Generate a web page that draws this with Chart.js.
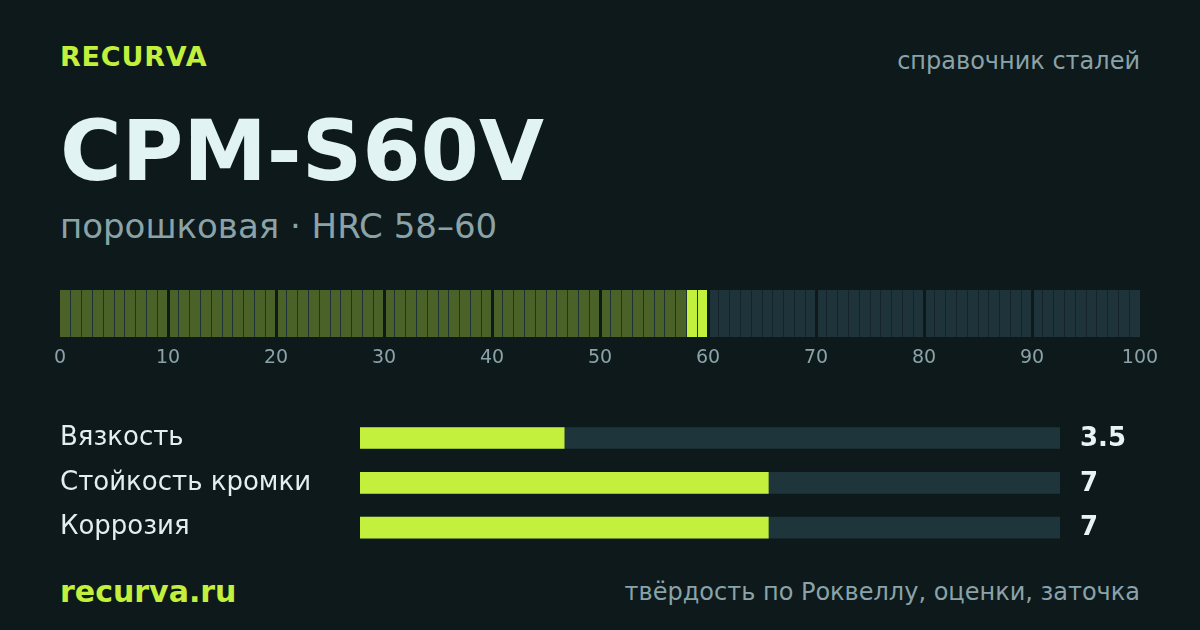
<!DOCTYPE html>
<html lang="ru">
<head>
<meta charset="utf-8">
<script src="https://cdn.jsdelivr.net/npm/chart.js@4.4.1/dist/chart.umd.min.js"></script>
<style>
    html, body { margin: 0; padding: 0; }
    body {
        width: 1200px; height: 630px; overflow: hidden; position: relative;
        background: #0d191b; font-family: 'DejaVu Sans', sans-serif;
    }
    .t { position: absolute; line-height: 1; white-space: nowrap; }
    #brand { left: 60px; top: 43px; font-size: 27px; font-weight: bold; color: #c2f03c; letter-spacing: 0.8px; }
    #kind { right: 60px; top: 49px; font-size: 24px; color: #8aa3a8; }
    #title { left: 60px; top: 109px; font-size: 84px; font-weight: bold; color: #e2f3f3; }
    #sub { left: 60px; top: 209px; font-size: 34px; color: #8aa3a8; }
    #site { left: 60px; top: 577px; font-size: 30px; font-weight: bold; color: #c2f03c; }
    #foot { right: 60px; top: 580px; font-size: 24px; color: #8aa3a8; }
    #scaleWrap { position: absolute; left: 0; top: 290px; width: 1200px; height: 80px; }
    #barsWrap { position: absolute; left: 0; top: 400px; width: 1200px; height: 170px; }
</style>
</head>
<body>
<div class="t" id="brand">RECURVA</div>
<div class="t" id="kind">справочник сталей</div>
<div class="t" id="title">CPM-S60V</div>
<div class="t" id="sub">порошковая · HRC 58–60</div>
<div class="t" id="site">recurva.ru</div>
<div class="t" id="foot">твёрдость по Роквеллу, оценки, заточка</div>
<div id="scaleWrap"><canvas id="hrcChart"></canvas></div>
<div id="barsWrap"><canvas id="ratingChart"></canvas></div>
<script>
// Шкала HRC
const hrcMin = 0;
const hrcMax = 100;
const hrcTicks = [0, 10, 20, 30, 40, 50, 60, 70, 80, 90, 100];
const hrcRange = [58, 60];

// Оценки
const ratingLabels = ['Вязкость', 'Стойкость кромки', 'Коррозия'];
const ratingValues = [3.5, 7, 7];
const ratingMax = 12;

const BG = '#0d191b';
const LIME = '#c2f03c';
const OLIVE = '#4a6128';
const TEAL = '#1e343a';
const GREY = '#8aa3a8';

document.addEventListener('DOMContentLoaded', function() {
    Chart.defaults.font.family = "'DejaVu Sans', sans-serif";
    Chart.defaults.animation = false;

    // Ячейки шкалы: по одной на каждую единицу HRC
    const cells = [];
    const cellColors = [];
    for (let i = hrcMin; i < hrcMax; i++) {
        cells.push({ x: i + 0.5, y: 1 });
        if (i >= hrcRange[0] && i < hrcRange[1]) cellColors.push(LIME);
        else if (i < hrcRange[0]) cellColors.push(OLIVE);
        else cellColors.push(TEAL);
    }

    new Chart(document.getElementById('hrcChart'), {
        type: 'bar',
        data: {
            datasets: [{
                data: cells,
                backgroundColor: cellColors,
                categoryPercentage: 1,
                barPercentage: 1
            }]
        },
        options: {
            responsive: true,
            maintainAspectRatio: false,
            layout: { padding: { left: 60, right: 60, top: 0, bottom: 0 } },
            plugins: { legend: { display: false }, tooltip: { enabled: false } },
            scales: {
                x: {
                    type: 'linear',
                    min: hrcMin,
                    max: hrcMax,
                    offset: false,
                    border: { display: false },
                    afterBuildTicks: function(scale) {
                        const t = [];
                        for (let v = hrcMin; v <= hrcMax; v++) t.push({ value: v });
                        scale.ticks = t;
                    },
                    afterFit: function(scale) { scale.height = 33; },
                    ticks: {
                        autoSkip: false,
                        maxRotation: 0,
                        padding: 10,
                        color: GREY,
                        font: { size: 19 },
                        callback: function(value) {
                            return hrcTicks.includes(value) ? String(value) : '';
                        }
                    },
                    grid: {
                        z: 1,
                        offset: false,
                        drawTicks: false,
                        color: function(ctx) {
                            const v = ctx.tick ? ctx.tick.value : 0;
                            if (v === hrcMin || v === hrcMax) return 'rgba(0,0,0,0)';
                            if (v % 10 === 0) return BG;
                            return v <= hrcRange[1] ? '#1e3237' : '#14242a';
                        },
                        lineWidth: function(ctx) {
                            const v = ctx.tick ? ctx.tick.value : 0;
                            return v % 10 === 0 ? 3 : 1;
                        }
                    }
                },
                y: { display: false, min: 0, max: 1 }
            }
        }
    });

    // Подписи значений справа от полос
    const valueLabels = {
        id: 'valueLabels',
        afterDatasetsDraw: function(chart) {
            const ctx = chart.ctx;
            const meta = chart.getDatasetMeta(1);
            ctx.save();
            ctx.fillStyle = '#e8f4f4';
            ctx.font = "bold 26px 'DejaVu Sans', sans-serif";
            ctx.textBaseline = 'middle';
            ctx.textAlign = 'left';
            meta.data.forEach(function(bar, i) {
                ctx.fillText(String(ratingValues[i]), chart.chartArea.right + 20, bar.y + 1);
            });
            ctx.restore();
        }
    };

    new Chart(document.getElementById('ratingChart'), {
        type: 'bar',
        data: {
            labels: ratingLabels,
            datasets: [{
                data: ratingLabels.map(function() { return ratingMax; }),
                backgroundColor: '#1e353b',
                barThickness: 21,
                grouped: false,
                order: 2
            }, {
                data: ratingValues,
                backgroundColor: LIME,
                barThickness: 21,
                grouped: false,
                order: 1
            }]
        },
        options: {
            indexAxis: 'y',
            responsive: true,
            maintainAspectRatio: false,
            layout: { padding: { left: 60, right: 140, top: 12, bottom: 20 } },
            plugins: { legend: { display: false }, tooltip: { enabled: false } },
            scales: {
                x: { display: false, min: 0, max: ratingMax },
                y: {
                    border: { display: false },
                    grid: { display: false },
                    afterFit: function(scale) { scale.width = 300; },
                    ticks: {
                        crossAlign: 'far',
                        padding: 0,
                        color: '#e2eff0',
                        font: { size: 26 }
                    }
                }
            }
        },
        plugins: [valueLabels]
    });
});
</script>
</body>
</html>
